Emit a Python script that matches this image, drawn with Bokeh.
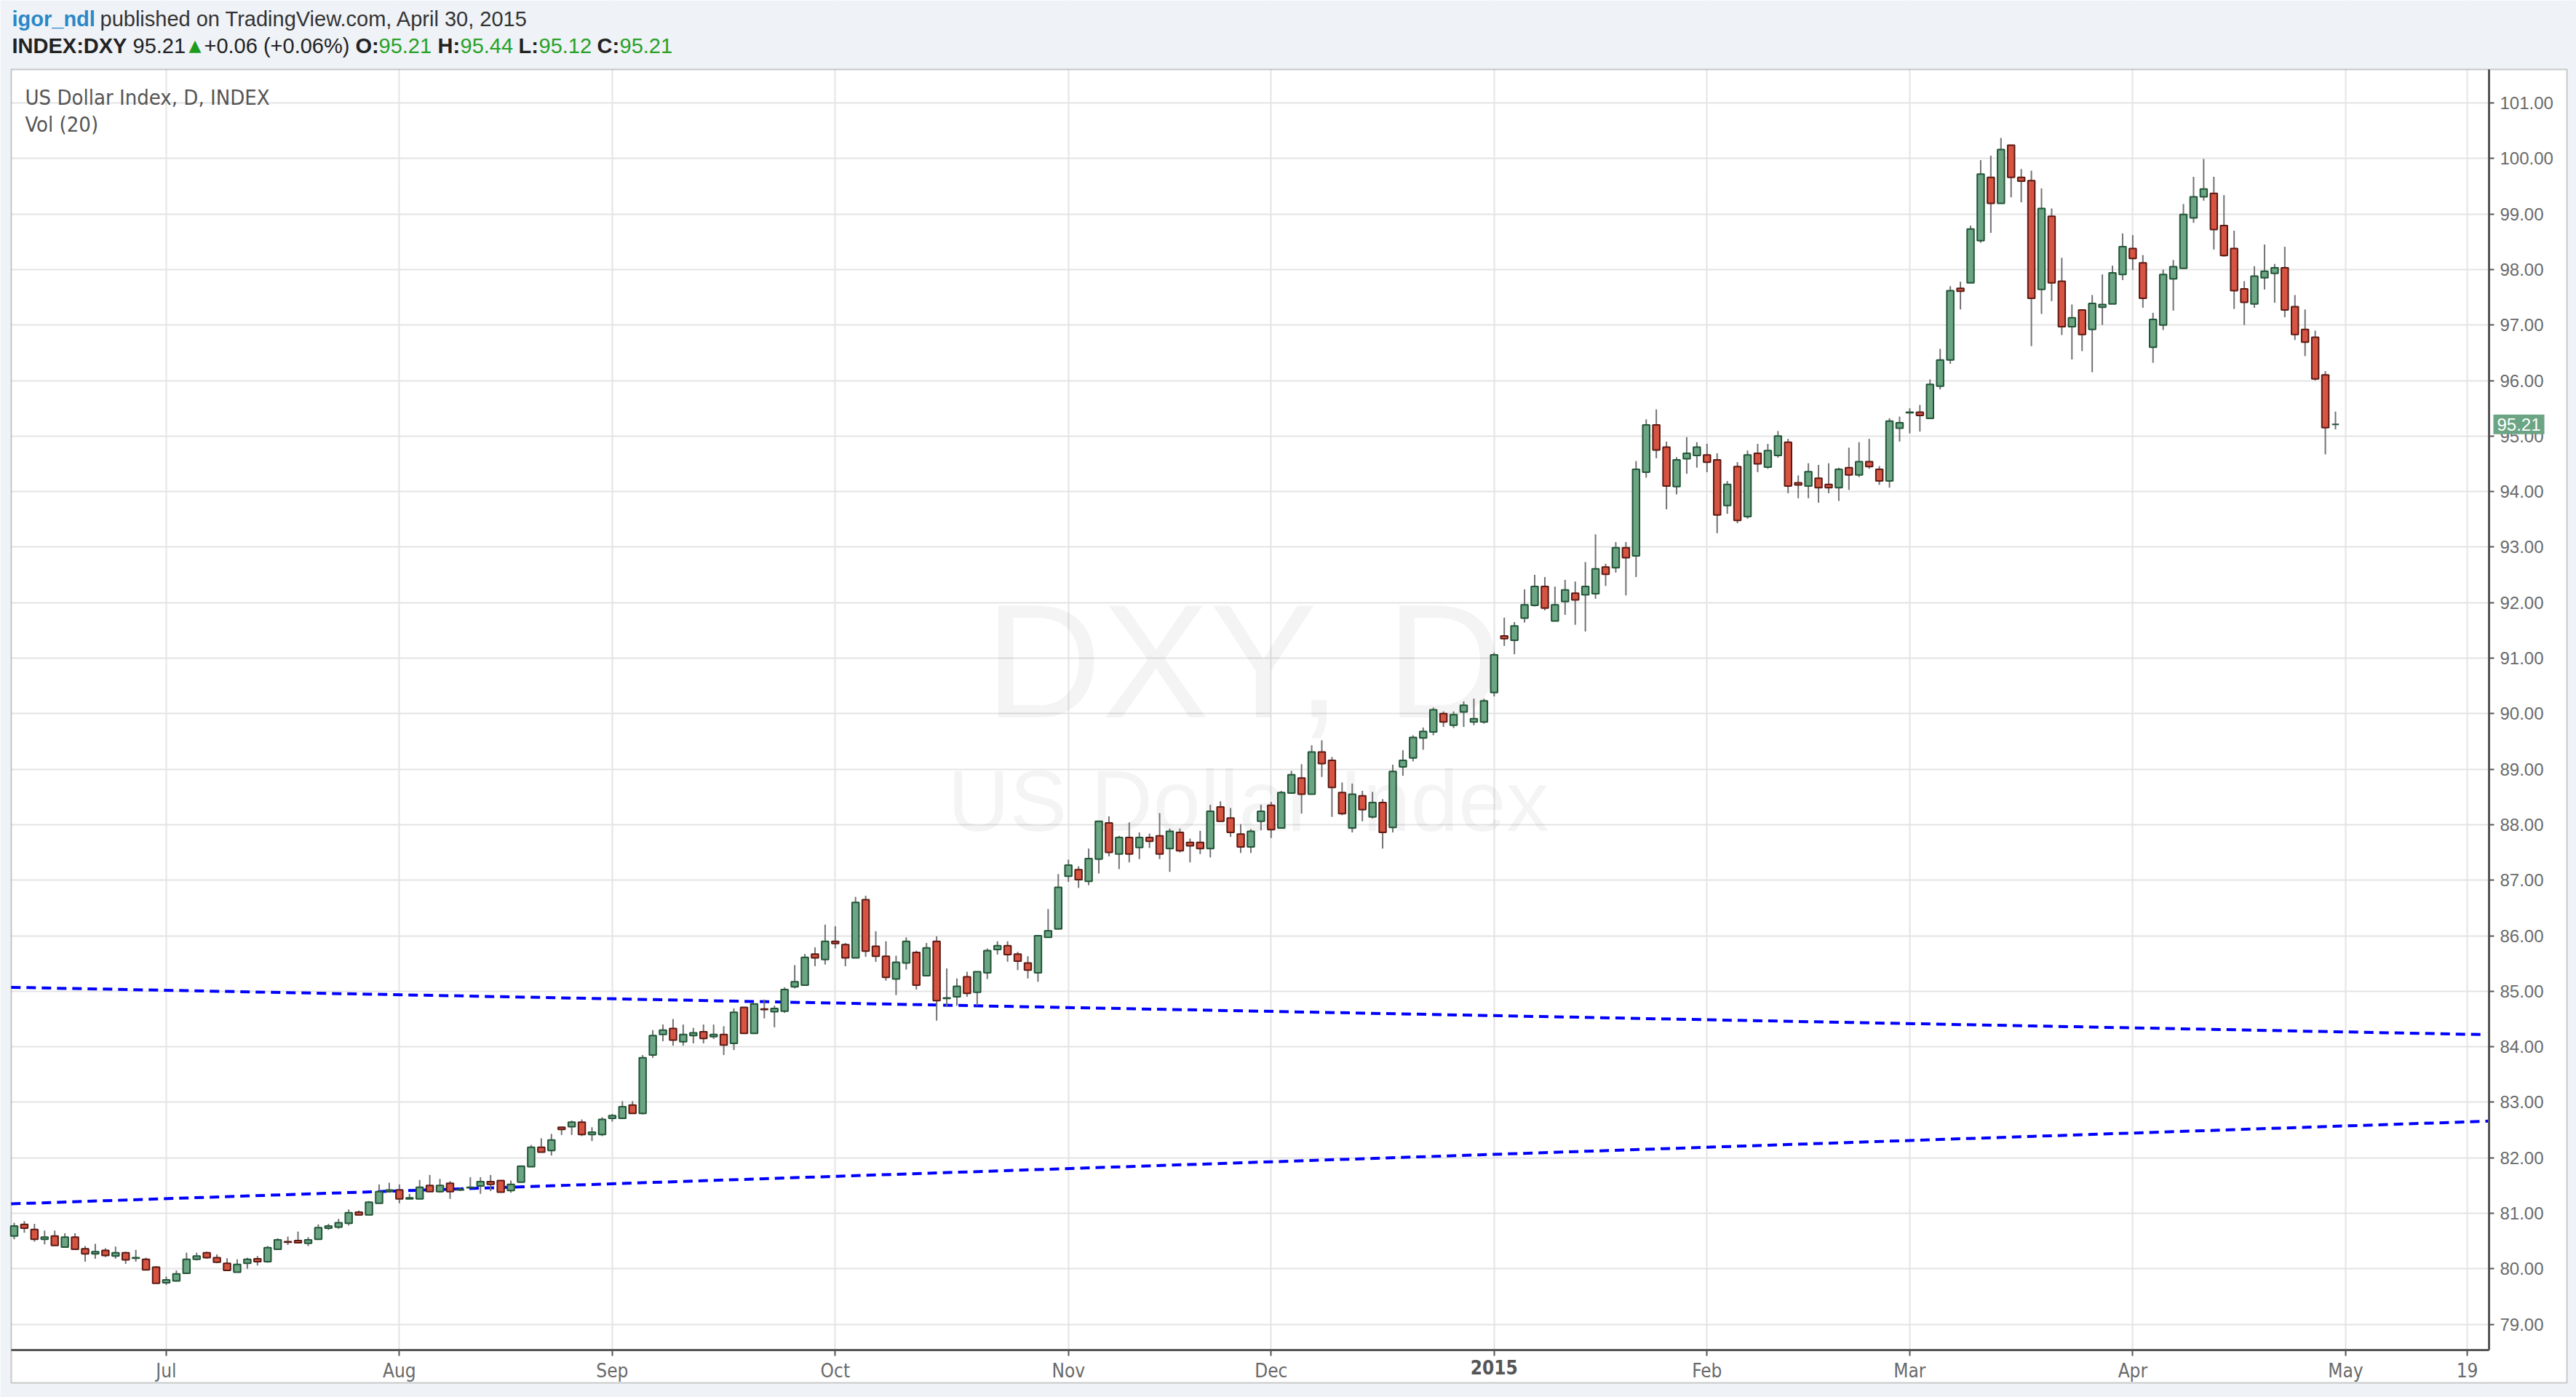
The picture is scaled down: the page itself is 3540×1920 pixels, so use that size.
from bokeh.plotting import figure
from bokeh.models import (Range1d, FixedTicker, Label, ColumnDataSource, BoxAnnotation,
                          PrintfTickFormatter, LinearAxis)
from bokeh.embed import file_html
from bokeh.resources import INLINE

# ---------------- data (daily bars, Jun 10 2014 .. Apr 30 2015, index = bar number) -------------
OPEN = [80.59, 80.80, 80.71, 80.53, 80.59, 80.39, 80.57, 80.36, 80.27, 80.33,
        80.23, 80.29, 80.19, 80.17, 80.03, 79.75, 79.78, 79.92, 80.17, 80.29,
        80.20, 80.10, 79.94, 80.10, 80.18, 80.13, 80.35, 80.49, 80.51, 80.46,
        80.53, 80.73, 80.75, 80.82, 81.02, 80.97, 81.18, 81.39, 81.42, 81.26,
        81.26, 81.50, 81.39, 81.54, 81.42, 81.46, 81.49, 81.57, 81.59, 81.41,
        81.56, 81.84, 82.19, 82.13, 82.55, 82.56, 82.64, 82.42, 82.42, 82.71,
        82.71, 82.95, 82.80, 83.85, 84.22, 84.33, 84.09, 84.20, 84.27, 84.18,
        84.22, 84.06, 84.71, 84.24, 84.68, 84.63, 84.64, 85.08, 85.11, 85.67,
        85.57, 85.90, 85.84, 85.60, 86.65, 85.81, 85.63, 85.22, 85.51, 85.70,
        85.28, 85.90, 84.87, 84.90, 85.26, 84.98, 85.33, 85.75, 85.82, 85.67,
        85.51, 85.33, 85.97, 86.12, 87.07, 87.19, 86.98, 87.38, 88.03, 87.47,
        87.77, 87.59, 87.77, 87.80, 87.57, 87.86, 87.68, 87.68, 87.57, 88.32,
        88.12, 87.83, 87.60, 88.06, 88.35, 87.94, 88.57, 88.84, 88.55, 89.31,
        89.16, 88.58, 87.94, 88.52, 88.14, 88.40, 87.95, 89.04, 89.20, 89.56,
        89.67, 90.00, 89.79, 90.03, 89.85, 89.85, 90.38, 91.40, 91.32, 91.72,
        91.95, 92.29, 91.67, 92.02, 92.17, 92.14, 92.16, 92.64, 92.63, 92.99,
        92.84, 94.35, 95.20, 94.80, 94.09, 94.59, 94.65, 94.66, 94.57, 93.75,
        94.45, 93.55, 94.69, 94.44, 94.65, 94.89, 94.16, 94.10, 94.24, 94.13,
        94.07, 94.43, 94.30, 94.54, 94.40, 94.19, 95.14, 95.42, 95.43, 95.32,
        95.90, 96.37, 97.66, 97.76, 98.52, 99.66, 99.19, 100.24, 99.66, 99.60,
        97.64, 98.96, 97.79, 96.97, 97.27, 96.92, 97.32, 97.38, 97.91, 98.38,
        98.12, 96.60, 97.00, 97.83, 98.02, 98.93, 99.31, 99.37, 98.79, 98.38,
        97.65, 97.38, 97.85, 97.93, 98.03, 97.33, 96.92, 96.78, 96.10, 95.21]
HIGH = [80.83, 80.86, 80.81, 80.69, 80.69, 80.64, 80.64, 80.41, 80.45, 80.37,
        80.40, 80.31, 80.34, 80.20, 80.05, 79.86, 79.97, 80.29, 80.29, 80.31,
        80.26, 80.19, 80.17, 80.20, 80.23, 80.41, 80.55, 80.58, 80.67, 80.57,
        80.80, 80.81, 80.90, 81.07, 81.05, 81.22, 81.52, 81.55, 81.52, 81.35,
        81.60, 81.69, 81.62, 81.58, 81.46, 81.65, 81.65, 81.69, 81.59, 81.59,
        81.85, 82.23, 82.35, 82.43, 82.55, 82.67, 82.69, 82.55, 82.73, 82.79,
        83.02, 83.02, 83.85, 84.30, 84.40, 84.50, 84.40, 84.34, 84.40, 84.40,
        84.37, 84.69, 84.71, 84.77, 84.85, 84.74, 85.07, 85.47, 85.67, 85.79,
        86.20, 86.17, 85.87, 86.70, 86.72, 86.08, 85.90, 85.64, 85.97, 85.73,
        85.87, 85.99, 85.41, 85.23, 85.35, 85.35, 85.77, 85.90, 85.90, 85.71,
        85.63, 86.00, 86.48, 87.11, 87.37, 87.25, 87.57, 88.06, 88.15, 87.80,
        88.04, 87.86, 87.84, 88.21, 87.93, 87.93, 87.75, 87.89, 88.36, 88.42,
        88.30, 88.01, 87.92, 88.36, 88.41, 88.61, 88.97, 89.09, 89.43, 89.52,
        89.22, 88.76, 88.74, 88.61, 88.59, 88.46, 89.08, 89.34, 89.61, 89.75,
        90.11, 90.04, 90.04, 90.22, 90.27, 90.27, 91.10, 91.73, 91.65, 92.24,
        92.50, 92.46, 92.29, 92.41, 92.38, 92.73, 93.23, 92.70, 93.09, 93.09,
        94.55, 95.30, 95.48, 94.90, 94.62, 94.98, 94.89, 94.86, 94.69, 94.19,
        94.53, 94.74, 94.86, 94.86, 95.09, 94.95, 94.29, 94.51, 94.48, 94.51,
        94.43, 94.79, 94.89, 94.95, 94.46, 95.32, 95.35, 95.50, 95.56, 96.02,
        96.57, 97.70, 97.78, 98.79, 99.97, 100.05, 100.37, 100.24, 99.81, 99.78,
        99.46, 99.10, 98.21, 97.37, 97.27, 97.54, 97.91, 98.07, 98.65, 98.62,
        98.26, 97.22, 98.00, 98.17, 99.18, 99.67, 99.99, 99.67, 99.34, 98.70,
        97.79, 98.06, 98.45, 98.10, 98.41, 97.54, 97.28, 96.90, 96.17, 95.44]
LOW = [80.53, 80.65, 80.49, 80.44, 80.41, 80.38, 80.35, 80.13, 80.18, 80.21,
       80.18, 80.09, 80.13, 79.97, 79.74, 79.71, 79.77, 79.91, 80.15, 80.18,
       80.10, 79.97, 79.94, 80.00, 80.06, 80.11, 80.34, 80.43, 80.46, 80.41,
       80.52, 80.70, 80.72, 80.78, 80.97, 80.97, 81.18, 81.37, 81.18, 81.26,
       81.26, 81.39, 81.37, 81.26, 81.40, 81.46, 81.35, 81.40, 81.38, 81.37,
       81.56, 81.84, 82.10, 82.04, 82.41, 82.41, 82.39, 82.30, 82.39, 82.65,
       82.70, 82.79, 82.78, 83.80, 84.10, 84.02, 84.02, 84.06, 84.06, 84.14,
       83.85, 83.94, 84.24, 84.24, 84.51, 84.35, 84.61, 85.05, 85.10, 85.45,
       85.48, 85.77, 85.45, 85.60, 85.62, 85.53, 85.19, 84.93, 85.39, 85.03,
       85.28, 84.47, 84.73, 84.74, 84.90, 84.74, 85.22, 85.66, 85.53, 85.38,
       85.23, 85.17, 85.97, 86.12, 86.97, 86.86, 86.91, 87.12, 87.43, 87.20,
       87.32, 87.38, 87.58, 87.38, 87.15, 87.50, 87.32, 87.47, 87.41, 88.06,
       87.78, 87.49, 87.49, 87.90, 87.76, 87.94, 88.56, 88.20, 88.55, 88.86,
       88.14, 88.17, 87.86, 88.06, 88.11, 87.57, 87.86, 88.88, 89.14, 89.35,
       89.61, 89.76, 89.74, 89.76, 89.79, 89.82, 90.31, 91.22, 91.07, 91.64,
       91.93, 91.86, 91.67, 91.78, 91.60, 91.48, 92.07, 92.30, 92.54, 92.13,
       92.46, 94.25, 94.60, 93.68, 93.95, 94.32, 94.43, 94.35, 93.25, 93.60,
       93.43, 93.51, 94.35, 94.41, 94.61, 93.97, 93.88, 93.88, 93.80, 93.97,
       93.83, 94.03, 94.26, 94.41, 94.12, 94.07, 94.90, 95.05, 95.08, 95.32,
       95.84, 96.30, 97.28, 97.76, 98.48, 98.66, 99.19, 99.30, 99.21, 96.62,
       97.20, 97.43, 96.82, 96.38, 96.53, 96.15, 97.00, 97.38, 97.81, 97.99,
       97.31, 96.32, 96.91, 97.26, 98.02, 98.84, 99.24, 98.36, 98.23, 97.29,
       97.00, 97.31, 97.64, 97.40, 97.14, 96.73, 96.44, 96.00, 94.67, 95.12]
CLOSE = [80.77, 80.73, 80.53, 80.57, 80.42, 80.57, 80.35, 80.27, 80.31, 80.24,
         80.29, 80.16, 80.20, 79.98, 79.74, 79.80, 79.91, 80.17, 80.23, 80.20,
         80.12, 79.97, 80.08, 80.17, 80.13, 80.38, 80.52, 80.48, 80.47, 80.52,
         80.74, 80.77, 80.83, 81.01, 80.97, 81.20, 81.39, 81.42, 81.26, 81.28,
         81.47, 81.39, 81.50, 81.39, 81.43, 81.47, 81.57, 81.52, 81.38, 81.52,
         81.85, 82.19, 82.10, 82.32, 82.51, 82.64, 82.42, 82.46, 82.69, 82.76,
         82.92, 82.80, 83.80, 84.20, 84.30, 84.12, 84.22, 84.25, 84.15, 84.22,
         84.03, 84.62, 84.24, 84.77, 84.67, 84.69, 85.03, 85.17, 85.61, 85.60,
         85.90, 85.86, 85.60, 86.60, 85.72, 85.63, 85.25, 85.52, 85.90, 85.11,
         85.78, 84.83, 84.88, 85.09, 84.96, 85.35, 85.73, 85.82, 85.66, 85.54,
         85.38, 86.00, 86.09, 86.87, 87.27, 87.01, 87.39, 88.06, 87.50, 87.77,
         87.47, 87.77, 87.70, 87.47, 87.88, 87.53, 87.62, 87.57, 88.24, 88.06,
         87.86, 87.60, 87.88, 88.24, 87.91, 88.58, 88.90, 88.55, 89.31, 89.10,
         88.67, 88.20, 88.55, 88.27, 88.40, 87.86, 88.96, 89.16, 89.57, 89.68,
         90.07, 89.85, 89.98, 90.15, 89.91, 90.23, 91.06, 91.35, 91.58, 91.96,
         92.29, 91.90, 91.96, 92.23, 92.05, 92.29, 92.61, 92.51, 92.99, 92.81,
         94.40, 95.20, 94.75, 94.10, 94.57, 94.69, 94.80, 94.53, 93.58, 94.13,
         93.48, 94.66, 94.50, 94.74, 95.00, 94.10, 94.12, 94.36, 94.07, 94.07,
         94.40, 94.30, 94.54, 94.45, 94.19, 95.27, 95.24, 95.43, 95.37, 95.93,
         96.37, 97.62, 97.61, 98.73, 99.72, 99.19, 100.16, 99.66, 99.59, 97.48,
         99.10, 97.76, 96.97, 97.13, 96.83, 97.39, 97.37, 97.94, 98.41, 98.20,
         97.48, 97.10, 97.91, 98.05, 98.99, 99.31, 99.45, 98.72, 98.25, 97.62,
         97.41, 97.88, 97.97, 98.03, 97.27, 96.83, 96.69, 96.03, 95.15, 95.21]

# month ticks (bar index of first trading day) and their labels
TICK_IDX = [15, 38, 59, 81, 104, 124, 146, 167, 187, 209, 230, 242]
TICK_LABELS = ["Jul", "Aug", "Sep", "Oct", "Nov", "Dec", "2015", "Feb", "Mar", "Apr", "May", "19"]
YEAR_TICK = 146
PRICE_TICKS = [79, 80, 81, 82, 83, 84, 85, 86, 87, 88, 89, 90, 91, 92, 93, 94, 95, 96, 97, 98, 99, 100, 101]

# hand-drawn trend lines (bar index, price)
UPPER_TREND_X = [-0.3, 243.4]
UPPER_TREND_Y = [85.07, 84.22]
LOWER_TREND_X = [-0.3, 244.2]
LOWER_TREND_Y = [81.17, 82.66]

LAST_PRICE = 95.21
CHANGE, CHANGE_PCT = 0.06, 0.06

# ---------------- page geometry (pixels of the 3540x1920 page) -------------
W, H = 3540, 1920
BAR_PX, BAR0_PX = 13.93, 19.0          # bar spacing, x of bar 0
UNIT_PX, Y101_PX = 76.3, 141.0         # px per index point, y of 101.00
PANE_L, PANE_R, PANE_T, PANE_B = 15, 3420, 95, 1855   # price pane
CHART_R, CHART_B = 3527, 1900                          # outer chart frame


def X(px):
    return (px - BAR0_PX) / BAR_PX


def Y(py):
    return 101.0 - (py - Y101_PX) / UNIT_PX


# ---------------- styling -------------
UP_FILL, UP_LINE = "#6ba583", "#225437"
DN_FILL, DN_LINE = "#d75442", "#5b1a13"
WICK = "#737375"
NARROW = "Liberation Sans Narrow, DejaVu Sans Condensed, sans-serif"
SANS = "Liberation Sans, Arial, DejaVu Sans, sans-serif"
BG = "#eff2f6"
FRAME = "#555555"

idx = list(range(len(OPEN)))
up = [i for i in idx if CLOSE[i] >= OPEN[i]]
dn = [i for i in idx if CLOSE[i] < OPEN[i]]

src_all = ColumnDataSource(dict(x=idx, h=HIGH, l=LOW))
src_up = ColumnDataSource(dict(x=up, top=[CLOSE[i] for i in up], bottom=[OPEN[i] for i in up]))
src_dn = ColumnDataSource(dict(x=dn, top=[OPEN[i] for i in dn], bottom=[CLOSE[i] for i in dn]))

p = figure(width=W, height=H, output_backend="svg", toolbar_location=None,
           x_range=Range1d(X(0), X(W)), y_range=Range1d(Y(H), Y(0)),
           x_axis_location="below", y_axis_location="right", min_border=0)
p.min_border_left = p.min_border_right = p.min_border_top = p.min_border_bottom = 0
p.border_fill_color = BG
p.background_fill_color = "white"
p.outline_line_color = None

# grids (only inside the pane; the rest is covered below)
p.xgrid.ticker = FixedTicker(ticks=TICK_IDX)
p.ygrid.ticker = FixedTicker(ticks=PRICE_TICKS)
p.xgrid.grid_line_color = "#e4e4e4"
p.ygrid.grid_line_color = "#e4e4e4"
p.xgrid.grid_line_width = 2
p.ygrid.grid_line_width = 2


def box(l, r, t, b, color):
    p.add_layout(BoxAnnotation(left=X(l), right=X(r), top=Y(t), bottom=Y(b),
                               fill_color=color, fill_alpha=1, line_color=None, level="underlay"))


box(0, W, 0, PANE_T, BG)                       # header band
box(0, PANE_L, 0, H, BG)                       # left margin
box(CHART_R, W, 0, H, BG)                      # right margin
box(0, W, CHART_B, H, BG)                      # bottom margin
box(PANE_R + 1, CHART_R, PANE_T, CHART_B, "white")   # price-scale area
box(PANE_L, CHART_R, PANE_B + 1, CHART_B, "white")   # time-scale area
p.add_layout(BoxAnnotation(left=X(PANE_L), right=X(CHART_R), top=Y(PANE_T), bottom=Y(CHART_B),
                           fill_alpha=0, line_color=FRAME, line_width=2, level="underlay"))

# axes at fixed places
xa = p.xaxis[0]
xa.fixed_location = Y(PANE_B)
xa.bounds = (X(PANE_L), X(PANE_R))
xa.ticker = FixedTicker(ticks=[t for t in TICK_IDX if t != YEAR_TICK])
xa.major_label_overrides = {t: s for t, s in zip(TICK_IDX, TICK_LABELS)}
ya = p.yaxis[0]
ya.fixed_location = X(PANE_R)
ya.bounds = (Y(PANE_B), Y(PANE_T))
ya.ticker = FixedTicker(ticks=PRICE_TICKS)
ya.formatter = PrintfTickFormatter(format="%.2f")

xa2 = LinearAxis(fixed_location=Y(PANE_B), ticker=FixedTicker(ticks=[YEAR_TICK]),
                 major_label_overrides={YEAR_TICK: TICK_LABELS[TICK_IDX.index(YEAR_TICK)]},
                 axis_line_color=None)
p.add_layout(xa2, "below")

for ax in (xa, xa2):
    ax.minor_tick_line_color = None
    ax.major_tick_in = 0
    ax.major_tick_out = 8
    ax.major_tick_line_color = FRAME
    ax.major_tick_line_width = 2
    ax.major_label_standoff = 5
    ax.major_label_text_font = NARROW
    ax.major_label_text_font_size = "26px"
    ax.major_label_text_color = "#6a6a6a"
xa.axis_line_color = FRAME
xa.axis_line_width = 3
xa2.major_label_text_font_style = "bold"
xa2.major_label_text_color = "#555555"

ya.minor_tick_line_color = None
ya.major_tick_in = 0
ya.major_tick_out = 7
ya.major_tick_line_color = FRAME
ya.major_tick_line_width = 2
ya.axis_line_color = FRAME
ya.axis_line_width = 3
ya.major_label_standoff = 8
ya.major_label_text_font = SANS
ya.major_label_text_font_size = "24px"
ya.major_label_text_color = "#6a6a6a"

# watermark
p.add_layout(Label(x=X(1709), y=Y(908), text="DXY, D", text_align="center", text_baseline="middle",
                   text_font=SANS, text_font_size="222px", text_color="#000000", text_alpha=0.045,
                   level="underlay"))
p.add_layout(Label(x=X(1715), y=Y(1100), text="US Dollar Index", text_align="center",
                   text_baseline="middle", text_font=SANS, text_font_size="118px",
                   text_color="#000000", text_alpha=0.045, level="underlay"))

# trend lines
p.line(UPPER_TREND_X, UPPER_TREND_Y, line_color="#0000ff", line_width=4, line_dash="13 8")
p.line(LOWER_TREND_X, LOWER_TREND_Y, line_color="#0000ff", line_width=4, line_dash="13 8")

# candles
p.segment(x0="x", y0="h", x1="x", y1="l", source=src_all, line_color=WICK, line_width=2)
p.vbar(x="x", top="top", bottom="bottom", width=0.68, source=src_up,
       fill_color=UP_FILL, line_color=UP_LINE, line_width=2)
p.vbar(x="x", top="top", bottom="bottom", width=0.68, source=src_dn,
       fill_color=DN_FILL, line_color=DN_LINE, line_width=2)


def lab(px, py, text, color="#333333", bold=False, size="29px", font=SANS, **kw):
    p.add_layout(Label(x=X(px), y=Y(py), text=text, text_baseline="middle", text_font=font,
                       text_font_size=size, text_color=color,
                       text_font_style="bold" if bold else "normal", **kw))


# legend texts inside the pane
lab(34, 133, "US Dollar Index, D, INDEX", color="#555555", font=NARROW)
lab(34, 170, "Vol (20)", color="#555555", font=NARROW)

# last price tag on the price scale
lab(3426, Y101_PX + (101 - LAST_PRICE) * UNIT_PX, f"{LAST_PRICE:.2f}", color="white", size="24px",
    background_fill_color=UP_FILL, padding=5)

# header
DARK = "#222222"
G = "#27a127"
lab(16, 25, "igor_ndl", color="#2a88c9", bold=True)
lab(137, 25, "published on TradingView.com, April 30, 2015")
lab(16, 62, "INDEX:DXY", color=DARK, bold=True)
lab(182, 62, f"{LAST_PRICE:.2f}", color=DARK)
lab(259, 62, "▲", color="#1c9b1c", size="22px", font="DejaVu Sans")
lab(280, 62, f"+{CHANGE:.2f} (+{CHANGE_PCT:.2f}%)", color=DARK)
lab(488, 62, "O:", color=DARK, bold=True)
lab(520, 62, f"{OPEN[-1]:.2f}", color=G)
lab(601, 62, "H:", color=DARK, bold=True)
lab(632, 62, f"{HIGH[-1]:.2f}", color=G)
lab(712, 62, "L:", color=DARK, bold=True)
lab(740, 62, f"{LOW[-1]:.2f}", color=G)
lab(820, 62, "C:", color=DARK, bold=True)
lab(851, 62, f"{CLOSE[-1]:.2f}", color=G)

open("out.html", "w").write(file_html(p, INLINE))
